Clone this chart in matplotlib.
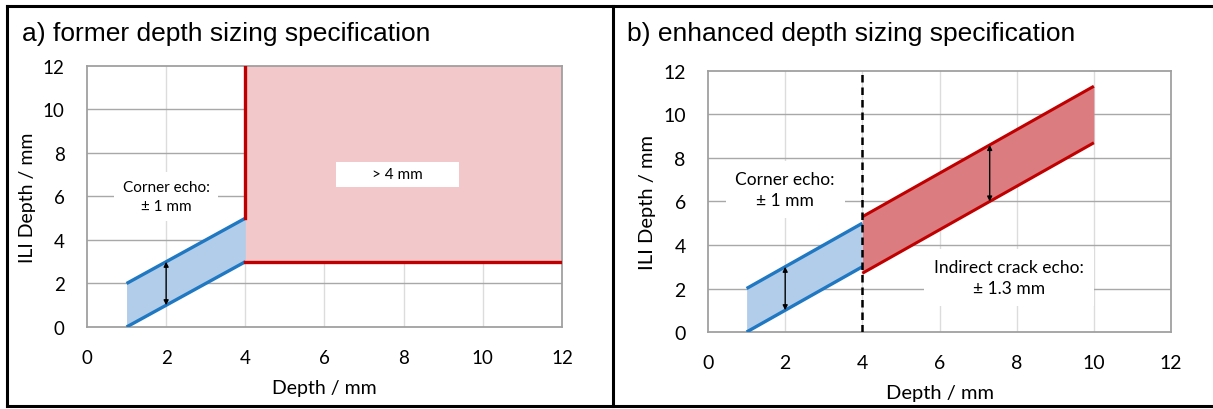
"""Depth sizing specification: former (a) vs enhanced (b) tolerance bands."""

import matplotlib

matplotlib.use("Agg")
import matplotlib.pyplot as plt
from matplotlib.lines import Line2D
from matplotlib.patches import Rectangle

# ---- data ----
ticks = [0, 2, 4, 6, 8, 10, 12]

# corner echo band (both panels): +/- 1 mm around the 1:1 line
corner_x = [1, 4]
corner_low = [0, 3]
corner_high = [2, 5]

# panel a: everything deeper than 4 mm
deep_x = [4, 12]
deep_low = [3, 3]
deep_high = [12, 12]
deep_edge_y = [5, 12]

# panel b: indirect crack echo band, +/- 1.3 mm
crack_x = [4, 10]
crack_low = [2.7, 8.7]
crack_high = [5.3, 11.3]

BLUE = "#1f78c1"
BLUE_FILL = "#b1cdea"
RED = "#c00000"
PINK_FILL = "#f2c8ca"
RED_FILL = "#da7c80"

TICK_FONT = "Lato"
TITLE_FONT = "Liberation Sans"

fig = plt.figure(figsize=(12.13, 4.10), dpi=100)

ax_a = fig.add_axes([0.0717, 0.2, 0.3916, 0.6366])
ax_b = fig.add_axes([0.5837, 0.1878, 0.3817, 0.6366])


def style_axes(ax, size, label_size):
    ax.set_xlim(0, 12)
    ax.set_ylim(0, 12)
    ax.set_xticks(ticks)
    ax.set_yticks(ticks)
    ax.tick_params(length=0, labelsize=size, pad=16)
    for lab in ax.get_xticklabels() + ax.get_yticklabels():
        lab.set_fontfamily(TICK_FONT)
    for sp in ax.spines.values():
        sp.set_color("#a0a0a0")
        sp.set_linewidth(1.3)
    for t in ticks[1:-1]:
        ax.axhline(t, color="#a8a8a8", lw=1.0, zorder=0.5)
        ax.axvline(t, color="#dcdcdc", lw=1.0, zorder=0.4)
    ax.set_xlabel("Depth / mm", fontfamily=TICK_FONT, fontsize=label_size, labelpad=9)
    ax.set_ylabel("ILI Depth / mm", fontfamily=TICK_FONT, fontsize=label_size, labelpad=5)


def arrow(ax, x, y0, y1):
    ax.annotate(
        "",
        xy=(x, y1),
        xytext=(x, y0),
        arrowprops=dict(arrowstyle="<|-|>", color="black", lw=1.0,
                        mutation_scale=7, shrinkA=0, shrinkB=0),
        zorder=6,
    )


# ---- panel a ----
style_axes(ax_a, 13.5, 14)
ax_a.fill_between(deep_x, deep_low, deep_high, color=PINK_FILL, lw=0, zorder=1)
ax_a.fill_between(corner_x, corner_low, corner_high, color=BLUE_FILL, lw=0, zorder=1)
ax_a.plot(corner_x, corner_low, color=BLUE, lw=2.4, solid_capstyle="butt", zorder=4)
ax_a.plot(corner_x, corner_high, color=BLUE, lw=2.4, solid_capstyle="butt", zorder=4)
ax_a.plot([deep_x[0]] * 2, deep_edge_y, color=RED, lw=2.4, zorder=4)
ax_a.plot(deep_x, deep_low, color=RED, lw=2.4, zorder=4)
arrow(ax_a, 2, 1, 3)
ax_a.add_patch(Rectangle((6.3, 6.45), 3.1, 1.15, facecolor="white", edgecolor="none", zorder=3))
ax_a.text(7.85, 7.03, "> 4 mm", ha="center", va="center", fontsize=11,
          fontfamily=TICK_FONT, zorder=5)
ax_a.text(2.0, 6.0, "Corner echo:\n± 1 mm", ha="center", va="center", fontsize=11,
          fontfamily=TICK_FONT, linespacing=1.45, zorder=5,
          bbox=dict(facecolor="white", edgecolor="none", pad=6))

# ---- panel b ----
style_axes(ax_b, 14, 14.5)
ax_b.fill_between(crack_x, crack_low, crack_high, color=RED_FILL, lw=0, zorder=1)
ax_b.fill_between(corner_x, corner_low, corner_high, color=BLUE_FILL, lw=0, zorder=1)
ax_b.plot(corner_x, corner_low, color=BLUE, lw=2.4, solid_capstyle="butt", zorder=4)
ax_b.plot(corner_x, corner_high, color=BLUE, lw=2.4, solid_capstyle="butt", zorder=4)
ax_b.plot(crack_x, crack_low, color=RED, lw=2.2, solid_capstyle="butt", zorder=4)
ax_b.plot(crack_x, crack_high, color=RED, lw=2.2, solid_capstyle="butt", zorder=4)
ax_b.axvline(crack_x[0], color="black", lw=1.8, ls=(0, (3, 2)), zorder=5)
arrow(ax_b, 2, 1, 3)
arrow(ax_b, 7.3, 6.0, 8.6)
ax_b.text(2.0, 6.55, "Corner echo:\n± 1 mm", ha="center", va="center", fontsize=12.5,
          fontfamily=TICK_FONT, linespacing=1.4, zorder=5,
          bbox=dict(facecolor="white", edgecolor="none", pad=7))
ax_b.text(7.8, 2.5, "Indirect crack echo:\n± 1.3 mm", ha="center", va="center", fontsize=12.5,
          fontfamily=TICK_FONT, linespacing=1.4, zorder=5,
          bbox=dict(facecolor="white", edgecolor="none", pad=7))

# ---- panel titles and frame ----
fig.text(0.018, 0.918, "a) former depth sizing specification", fontsize=19,
         fontfamily=TITLE_FONT, va="center")
fig.text(0.517, 0.918, "b) enhanced depth sizing specification", fontsize=19,
         fontfamily=TITLE_FONT, va="center")

frame_kw = dict(color="black", lw=2.2, transform=fig.transFigure)
fig.add_artist(Line2D([0.0058, 1.0], [0.983, 0.983], **frame_kw))
fig.add_artist(Line2D([0.0058, 1.0], [0.0073, 0.0073], **frame_kw))
fig.add_artist(Line2D([0.0058, 0.0058], [0.0073, 0.983], **frame_kw))
fig.add_artist(Line2D([0.5054, 0.5054], [0.0073, 0.983], **frame_kw))

fig.savefig("out.png", dpi=100)
